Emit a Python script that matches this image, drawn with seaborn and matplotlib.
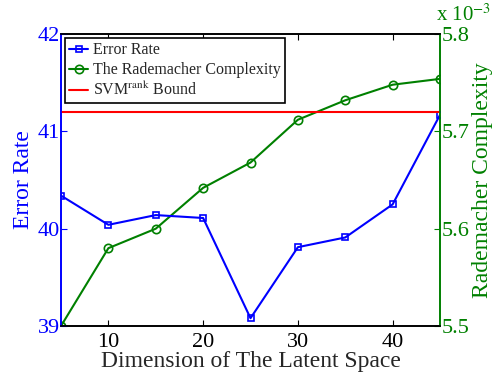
import numpy as np
import pandas as pd
import matplotlib
matplotlib.use("Agg")
import matplotlib.pyplot as plt
import seaborn as sns

dims = [5, 10, 15, 20, 25, 30, 35, 40, 45]
error_rate = [40.34, 40.04, 40.14, 40.11, 39.08, 39.81, 39.91, 40.25, 41.17]
rademacher = [5.500, 5.580, 5.600, 5.642, 5.668, 5.712, 5.732, 5.748, 5.754]
svm_bound = 41.2
xticks = [10, 20, 30, 40]
left_ticks = [39, 40, 41, 42]
right_ticks = [5.5, 5.6, 5.7, 5.8]
right_tick_labels = ["5.5", "5.6", "5.7", "5.8"]

sns.set_style("ticks")
plt.rcParams['font.family'] = ['Liberation Serif', 'DejaVu Serif']
plt.rcParams['mathtext.fontset'] = 'stix'

df = pd.DataFrame({"dim": dims, "err": error_rate, "rad": rademacher})

fig = plt.figure(figsize=(4.94, 3.75), dpi=100)
ax = fig.add_axes([0.1235, 0.1307, 0.7672, 0.7783])
ax2 = ax.twinx()

blue = "#0000ff"
green = "#008000"
red = "#ff0000"

sns.lineplot(data=df, x="dim", y="err", ax=ax, color=blue, marker="s", markersize=5,
             markerfacecolor="none", markeredgecolor=blue, markeredgewidth=1.2,
             linewidth=1.5, label="Error Rate", legend=False)
sns.lineplot(data=df, x="dim", y="rad", ax=ax2, color=green, marker="o", markersize=6,
             markerfacecolor="none", markeredgecolor=green, markeredgewidth=1.2,
             linewidth=1.5, label="The Rademacher Complexity", legend=False)
ax.axhline(svm_bound, color=red, linewidth=1.5, label="SVM$^{\\mathrm{rank}}$ Bound")

ax.set_xlim(5, 45)
ax.set_ylim(39, 42)
ax2.set_ylim(5.5, 5.8)
ax.set_xticks(xticks)
ax.set_yticks(left_ticks)
ax2.set_yticks(right_ticks)
ax2.set_yticklabels(right_tick_labels)

ax.tick_params(axis='x', direction='in', top=True, labelsize=16, colors='black', length=4, pad=5)
ax.tick_params(axis='y', direction='in', labelsize=16, colors=blue, length=4, pad=1)
ax2.tick_params(axis='y', direction='in', labelsize=16, colors=green, length=4, pad=1)
ax2.tick_params(axis='x', top=False)

for a in (ax, ax2):
    a.spines['top'].set_color('black')
    a.spines['bottom'].set_color('black')
    a.spines['left'].set_color(blue)
    a.spines['right'].set_color(green)
    for s in a.spines.values():
        s.set_linewidth(1.2)
        s.set_visible(True)

ax.set_xlabel("Dimension of The Latent Space", fontsize=17, labelpad=-0.5)
ax.set_ylabel("Error Rate", fontsize=17, color=blue, labelpad=2.5)
ax2.set_ylabel("Rademacher Complexity", fontsize=17, color=green, labelpad=2)

fig.text(0.995, 0.93, "x 10$^{-3}$", fontsize=15, color=green, ha='right', va='bottom')

h1, l1 = ax.get_legend_handles_labels()
h2, l2 = ax2.get_legend_handles_labels()
handles = [h1[0], h2[0], h1[1]]
labels = [l1[0], l2[0], l1[1]]
leg = ax.legend(handles, labels, loc='upper left', fontsize=11.5, frameon=True, fancybox=False,
                edgecolor='black', framealpha=1, borderaxespad=0.25, handlelength=1.2,
                handletextpad=0.3, borderpad=0.25, labelspacing=0.25)
leg.get_frame().set_linewidth(1.2)
leg.set_zorder(10)
ax.set_zorder(ax2.get_zorder() + 1)
ax.patch.set_visible(False)

fig.savefig("out.png", dpi=100)
